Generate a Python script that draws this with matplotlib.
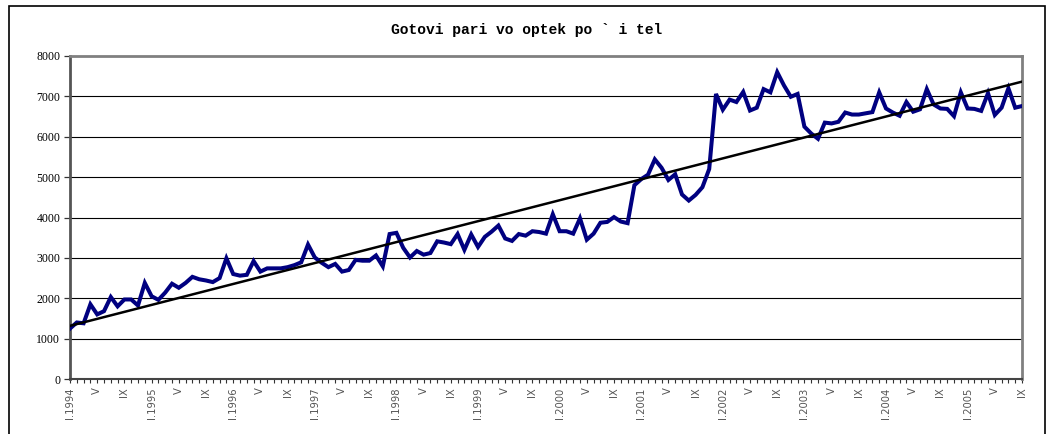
import numpy as np
import matplotlib.pyplot as plt
from matplotlib.patches import Rectangle

title = "Gotovi pari vo optek po ` i tel"
years = list(range(1994, 2006))
month_marks = {0: "I", 4: "V", 8: "IX"}

# monthly values, I.1994 .. IX.2005
values = [
    1250, 1400, 1380, 1850, 1600, 1680, 2030, 1800, 1970, 1970, 1820, 2380,
    2050, 1960, 2140, 2360, 2260, 2380, 2530, 2470, 2440, 2400, 2500, 2990,
    2600, 2560, 2580, 2920, 2660, 2740, 2740, 2740, 2770, 2820, 2890, 3330,
    3010, 2880, 2770, 2850, 2660, 2700, 2950, 2930, 2930, 3060, 2790, 3590,
    3620, 3250, 3010, 3170, 3080, 3120, 3410, 3380, 3340, 3590, 3200, 3580,
    3270, 3520, 3650, 3800, 3480, 3420, 3590, 3550, 3660, 3640, 3600, 4080,
    3660, 3660, 3600, 3980, 3450, 3600, 3870, 3890, 4010, 3900, 3860, 4800,
    4950, 5060, 5440, 5230, 4930, 5070, 4570, 4420, 4560, 4750, 5200, 7060,
    6670, 6920, 6860, 7110, 6650, 6720, 7180, 7100, 7600, 7270, 6990, 7060,
    6250, 6080, 5950, 6350, 6330, 6370, 6600, 6550, 6550, 6580, 6610, 7100,
    6700, 6600, 6520, 6860, 6620, 6680, 7180, 6800, 6700, 6690, 6510, 7100,
    6700, 6690, 6640, 7080, 6540, 6720, 7200, 6720, 6760,
]

x = np.arange(len(values))
labels = []
for i in x:
    m = i % 12
    if m == 0:
        labels.append("I." + str(years[i // 12]))
    elif m in month_marks:
        labels.append(month_marks[m])
    else:
        labels.append("")

slope, icpt = np.polyfit(x, values, 1)

fig = plt.figure(figsize=(10.53, 4.34), dpi=100)
ax = fig.add_axes([70 / 1053, 1 - 379 / 434, 952 / 1053, 323 / 434])

# outer chart frame
fig.add_artist(Rectangle((9 / 1053, -0.05), 1036 / 1053, 1.05 - 6 / 434,
                         transform=fig.transFigure, fill=False,
                         edgecolor="black", lw=1.2))

for v in range(1000, 8000, 1000):
    ax.axhline(v, color="black", lw=0.8, zorder=1)

ax.plot(x, values, color="#000080", lw=2.9, zorder=3, solid_joinstyle="miter")
ax.plot(x, slope * x + icpt, color="black", lw=1.8, zorder=4)

ax.set_xlim(0, len(values) - 1)
ax.set_ylim(0, 8000)
ax.set_yticks(range(0, 8001, 1000))
ax.set_yticklabels([str(v) for v in range(0, 8001, 1000)],
                   family="Liberation Serif", fontsize=8.5)
ax.set_xticks(x)
ax.set_xticklabels(labels, rotation=90, fontsize=8, color="#555555",
                   family="DejaVu Sans", fontstretch="condensed")
ax.tick_params(axis="x", length=3, width=0.8, color="#333333", pad=3)
ax.tick_params(axis="y", length=4, width=0.9, color="#333333", pad=3)

ax.spines["top"].set_color("#808080")
ax.spines["top"].set_linewidth(2)
ax.spines["right"].set_color("#808080")
ax.spines["right"].set_linewidth(2)
ax.spines["left"].set_color("#555555")
ax.spines["left"].set_linewidth(2)
ax.spines["bottom"].set_color("#444444")
ax.spines["bottom"].set_linewidth(1.5)

fig.text(0.5, 1 - 30 / 434, title, ha="center", va="center",
         family="Liberation Mono", fontweight="bold", fontsize=10.5)

fig.savefig("out.png", dpi=100)
